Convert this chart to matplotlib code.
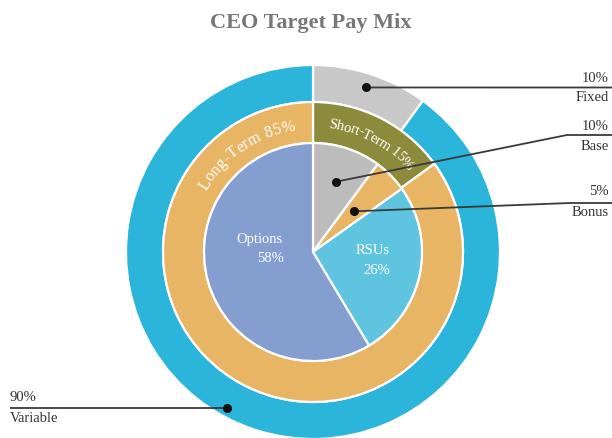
import numpy as np
import matplotlib
matplotlib.use("Agg")
import matplotlib.pyplot as plt
from matplotlib.font_manager import FontProperties
from matplotlib.textpath import text_to_path

# ---- data ----
title = "CEO Target Pay Mix"
outer_labels = ["Fixed", "Variable"]
outer_values = [10, 90]
middle_labels = ["Short-Term", "Long-Term"]
middle_values = [15, 85]
inner_labels = ["Base", "Bonus", "RSUs", "Options"]
inner_values = [10, 5, 26, 58]

# ---- style ----
outer_colors = ["#c8c8c8", "#2bb5da"]
middle_colors = ["#8c8b3b", "#e8b564"]
inner_colors = ["#bdbcbd", "#e8b564", "#5ec4e0", "#849fcf"]
SERIF = "Liberation Serif"
W, H = 612, 438
cx, cy = 313, H - 252
R_OUT, R_MID, R_IN = 187, 150, 109

fig = plt.figure(figsize=(W / 100, H / 100), dpi=100)
ax = fig.add_axes([0, 0, 1, 1])

wp = dict(edgecolor="white", linewidth=1.6)
ax.pie(outer_values, colors=outer_colors, radius=R_OUT, center=(cx, cy),
       startangle=90, counterclock=False,
       wedgeprops=dict(width=R_OUT - R_MID, **wp))
ax.pie(middle_values, colors=middle_colors, radius=R_MID, center=(cx, cy),
       startangle=90, counterclock=False,
       wedgeprops=dict(width=R_MID - R_IN, **wp))
ax.pie(inner_values, colors=inner_colors, radius=R_IN, center=(cx, cy),
       startangle=90, counterclock=False, wedgeprops=dict(**wp))

ax.set_xlim(0, W)
ax.set_ylim(0, H)
ax.set_aspect("auto")
ax.axis("off")


def wedge_angle(values, idx, frac=0.5):
    tot = float(sum(values))
    start = sum(values[:idx]) / tot * 360.0
    return start + frac * values[idx] / tot * 360.0


def polar(theta_deg, r):
    t = np.deg2rad(theta_deg)
    return cx + r * np.sin(t), cy + r * np.cos(t)


def curved_text(text, center_deg, span_deg, r, size, color="white"):
    fp = FontProperties(family=SERIF, size=size)
    widths = [text_to_path.get_text_width_height_descent(ch, fp, ismath=False)[0]
              for ch in text]
    widths = np.array(widths)
    centers = np.cumsum(widths) - widths / 2
    rel = (centers - centers[0]) / (centers[-1] - centers[0])
    for ch, f in zip(text, rel):
        th = center_deg - span_deg / 2 + f * span_deg
        x, y = polar(th, r)
        ax.text(x, y, ch, fontproperties=fp, color=color, rotation=-th,
                rotation_mode="anchor", ha="center", va="baseline")


# curved ring labels
curved_text(f"{middle_labels[1]} {middle_values[1]}%", -34.7, 46.6, 123, 11.5)
curved_text(f"{middle_labels[0]} {middle_values[0]}%", 27.8, 37.5, 125, 10.5)

# inner labels
txt_kw = dict(family=SERIF, color="white", fontsize=10.5, ha="center", va="center")
ax.text(259, H - 240, inner_labels[3], **txt_kw)
ax.text(270, H - 259, f"{inner_values[3]}%", **txt_kw)
ax.text(373, H - 250, inner_labels[2], **txt_kw)
ax.text(377, H - 270, f"{inner_values[2]}%", **txt_kw)

# title
ax.text(311, H - 23, title, family=SERIF, fontsize=16, fontweight="bold",
        color="#777777", ha="center", va="center")

# callouts
LC = "#3a3a3a"
ann_kw = dict(family=SERIF, fontsize=10.5, color="#333333", va="center")


def callout(theta, r, path_pts, top_txt, bot_txt, tx, ty_top, ty_bot, ha):
    x0, y0 = polar(theta, r)
    xs = [x0] + [p[0] for p in path_pts]
    ys = [y0] + [H - p[1] for p in path_pts]
    ax.plot(xs, ys, color=LC, lw=1.3, solid_capstyle="butt", zorder=5)
    ax.plot([x0], [y0], "o", color="#111111", ms=5.5, zorder=6)
    ax.text(tx, H - ty_top, top_txt, ha=ha, **ann_kw)
    ax.text(tx, H - ty_bot, bot_txt, ha=ha, **ann_kw)


th = wedge_angle(outer_values, 0)
callout(th, 173, [(612, 87.5)], f"{outer_values[0]}%", outer_labels[0],
        609, 78, 97.5, "right")
th = wedge_angle(inner_values, 0)
callout(th, 74, [(567, 135), (612, 135)], f"{inner_values[0]}%", inner_labels[0],
        609, 126, 146, "right")
th = wedge_angle(inner_values, 1)
callout(th, 58, [(570, 203), (612, 203)], f"{inner_values[1]}%", inner_labels[1],
        609, 191.5, 212.5, "right")
th = wedge_angle(outer_values, 1, frac=0.534)
x0, y0 = polar(th, 178)
callout(th, 178, [(10, H - y0)], f"{outer_values[1]}%", outer_labels[1],
        10, 397.5, 419, "left")

fig.savefig("out.png", dpi=100)
